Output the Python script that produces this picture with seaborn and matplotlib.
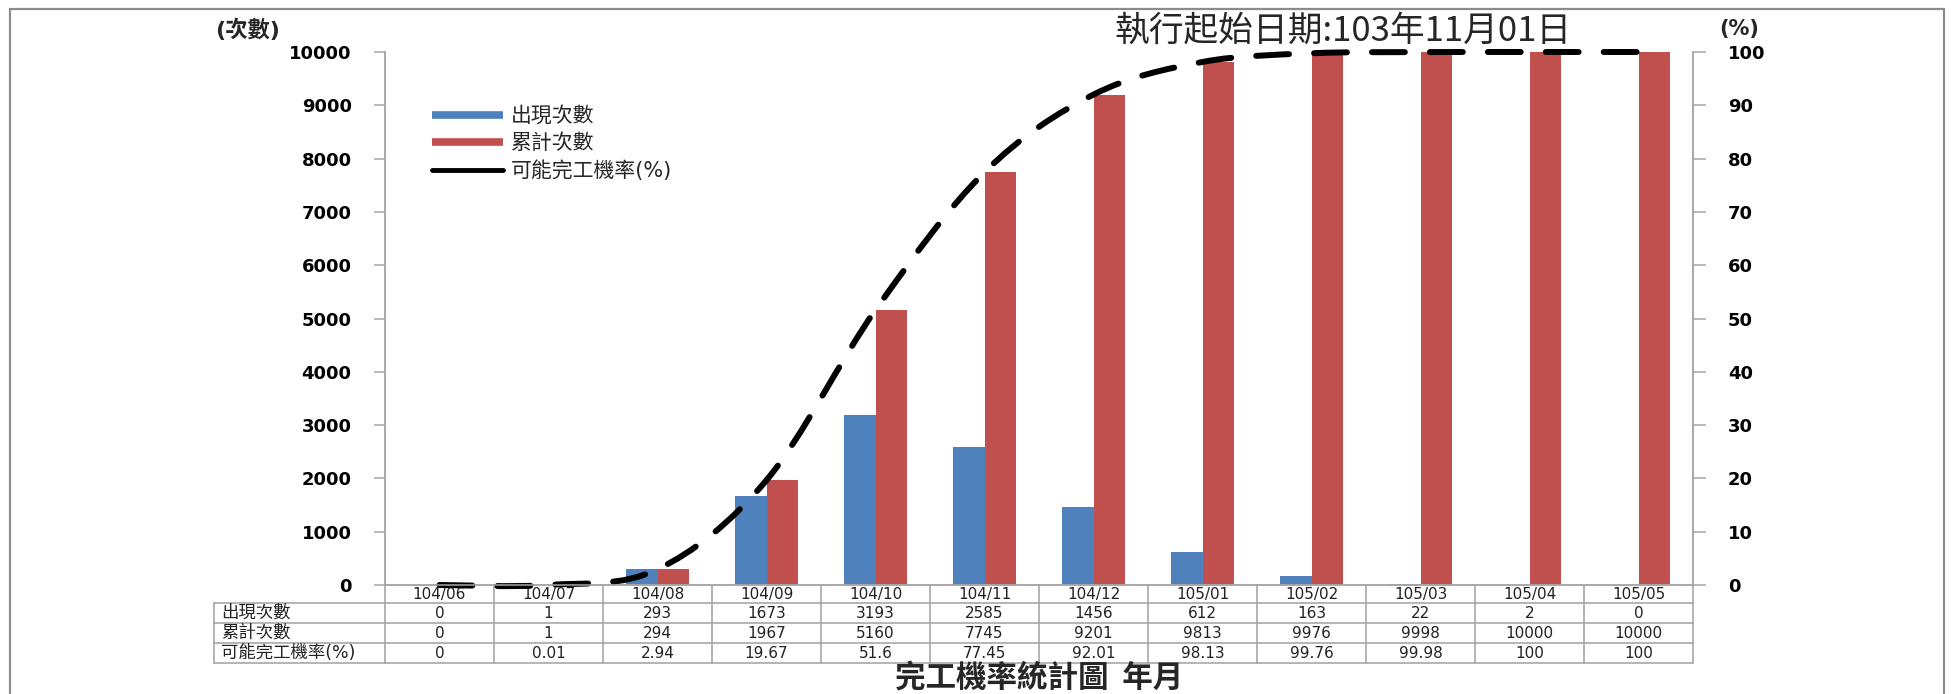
import matplotlib
matplotlib.use("Agg")
import matplotlib.pyplot as plt
from matplotlib.path import Path
from matplotlib.patches import PathPatch
from matplotlib.lines import Line2D
from matplotlib.transforms import blended_transform_factory
import seaborn as sns
import pandas as pd

# ---- data ----
months = ["104/06", "104/07", "104/08", "104/09", "104/10", "104/11",
          "104/12", "105/01", "105/02", "105/03", "105/04", "105/05"]
occurrences = [0, 1, 293, 1673, 3193, 2585, 1456, 612, 163, 22, 2, 0]
cumulative = [0, 1, 294, 1967, 5160, 7745, 9201, 9813, 9976, 9998, 10000, 10000]
completion_rate = [0, 0.01, 2.94, 19.67, 51.6, 77.45, 92.01, 98.13, 99.76, 99.98, 100, 100]

series_names = ["出現次數", "累計次數", "可能完工機率(%)"]
left_ticks = list(range(0, 10001, 1000))
right_ticks = list(range(0, 101, 10))

BLUE = "#4F81BD"
RED = "#C0504D"
GRID = "#A6A6A6"
TABLE = "#A0A0A0"

sns.set_theme(style="white")
plt.rcParams["font.family"] = ["DejaVu Sans", "Noto Sans CJK TC"]

W, H = 1957, 694
fig = plt.figure(figsize=(W / 100, H / 100), dpi=100)

# plot area in pixel units
x0, x1, y_top, y_bot = 385, 1693, 52, 585
ax = fig.add_axes([x0 / W, 1 - y_bot / H, (x1 - x0) / W, (y_bot - y_top) / H])

df = pd.DataFrame({
    "month": months * 2,
    "value": occurrences + cumulative,
    "series": [series_names[0]] * len(months) + [series_names[1]] * len(months),
})
sns.barplot(data=df, x="month", y="value", hue="series", order=months,
            hue_order=series_names[:2], palette=[BLUE, RED], saturation=1,
            width=0.58, linewidth=0, legend=False, ax=ax)

ax.set_xlim(-0.5, len(months) - 0.5)
ax.set_ylim(0, 10000)
ax.set_yticks(left_ticks)
ax.set_yticklabels([str(t) for t in left_ticks], fontsize=13, fontweight="bold")
ax.set_xticks([])
ax.set_xlabel("")
ax.set_ylabel("")
for side in ["left", "bottom", "right"]:
    ax.spines[side].set_color(GRID)
    ax.spines[side].set_linewidth(1.1)
ax.spines["top"].set_visible(False)
ax.tick_params(axis="y", direction="out", length=8, width=1.1, color=GRID,
               pad=16, labelcolor="black", left=True)

# completion-rate curve on the secondary axis
ax2 = ax.twinx()
ax2.set_ylim(0, 100)
ax2.set_yticks(right_ticks)
ax2.set_yticklabels([str(t) for t in right_ticks], fontsize=13, fontweight="bold")
ax2.tick_params(axis="y", direction="out", length=9, width=1.1, color=GRID,
                pad=16, labelcolor="black", right=True)
for side in ["left", "bottom", "right"]:
    ax2.spines[side].set_color(GRID)
    ax2.spines[side].set_linewidth(1.1)
ax2.spines["top"].set_visible(False)
ax2.grid(False)
ax.grid(False)

pts = list(zip(range(len(months)), completion_rate))
n = len(pts)
verts = [pts[0]]
codes = [Path.MOVETO]
for i in range(n - 1):
    p0 = pts[max(i - 1, 0)]
    p1 = pts[i]
    p2 = pts[i + 1]
    p3 = pts[min(i + 2, n - 1)]
    c1 = (p1[0] + (p2[0] - p0[0]) / 6, p1[1] + (p2[1] - p0[1]) / 6)
    c2 = (p2[0] - (p3[0] - p1[0]) / 6, p2[1] - (p3[1] - p1[1]) / 6)
    verts += [c1, c2, p2]
    codes += [Path.CURVE4] * 3
curve = PathPatch(Path(verts, codes), facecolor="none", edgecolor="black",
                  linewidth=4.3, linestyle=(0, (5.5, 4.2)), capstyle="round",
                  clip_on=False)
ax2.add_patch(curve)

# ---- data table under the axis ----
bt = blended_transform_factory(ax.transData, fig.transFigure)
ft = fig.transFigure


def fy(py):
    return 1 - py / H


row_lines = [603, 623, 643, 663]
table_left = 214 / W
for py in row_lines:
    fig.add_artist(Line2D([table_left, x1 / W], [fy(py), fy(py)], transform=ft,
                          color=TABLE, linewidth=1.1))
fig.add_artist(Line2D([table_left, table_left], [fy(603), fy(663)], transform=ft,
                      color=TABLE, linewidth=1.1))
for k in range(len(months) + 1):
    ax.plot([k - 0.5, k - 0.5], [fy(585), fy(663)], transform=bt, color=TABLE,
            linewidth=1.1, clip_on=False)

for i, m in enumerate(months):
    ax.text(i, fy(595), m, transform=bt, ha="center", va="center",
            fontsize=11, color="#222222")

row_values = [occurrences, cumulative, completion_rate]
row_centers = [613, 633, 653]
for name, vals, py in zip(series_names, row_values, row_centers):
    fig.text(221 / W, fy(py), name, ha="left", va="center", fontsize=12.5,
             color="#222222")
    for i, v in enumerate(vals):
        ax.text(i, fy(py), f"{v:g}", transform=bt, ha="center", va="center",
                fontsize=11, color="#222222")

# ---- titles and axis captions ----
fig.text(215 / W, fy(30), "(次數)", ha="left", va="center", fontsize=16,
         fontweight="bold")
fig.text(1719 / W, fy(29), "(%)", ha="left", va="center", fontsize=15,
         fontweight="bold")
fig.text(1343 / W, fy(31), "執行起始日期:103年11月01日", ha="center", va="center",
         fontsize=25, family=["Noto Sans CJK TC", "DejaVu Sans"])
fig.text(1039 / W, fy(678), "完工機率統計圖  年月", ha="center", va="center",
         fontsize=22, fontweight="bold", family=["Noto Sans CJK TC", "DejaVu Sans"])

# ---- legend ----
handles = [
    Line2D([0], [0], color=BLUE, linewidth=5.5, solid_capstyle="butt"),
    Line2D([0], [0], color=RED, linewidth=5.5, solid_capstyle="butt"),
    Line2D([0], [0], color="black", linewidth=3.5, solid_capstyle="round"),
]
fig.legend(handles, series_names, loc="upper left",
           bbox_to_anchor=(432 / W, fy(106)), frameon=False,
           handlelength=3.4, handletextpad=0.4, labelspacing=0.35,
           borderpad=0, borderaxespad=0,
           prop={"family": ["DejaVu Sans", "Noto Sans CJK TC"], "size": 15})

# ---- outer frame ----
frame_kw = dict(transform=ft, color="#8C8C8C", linewidth=1.6)
fig.add_artist(Line2D([10 / W, 10 / W], [0, fy(9)], **frame_kw))
fig.add_artist(Line2D([10 / W, 1944 / W], [fy(9), fy(9)], **frame_kw))
fig.add_artist(Line2D([1944 / W, 1944 / W], [0, fy(9)], **frame_kw))

fig.savefig("out.png", dpi=100, facecolor="white")
